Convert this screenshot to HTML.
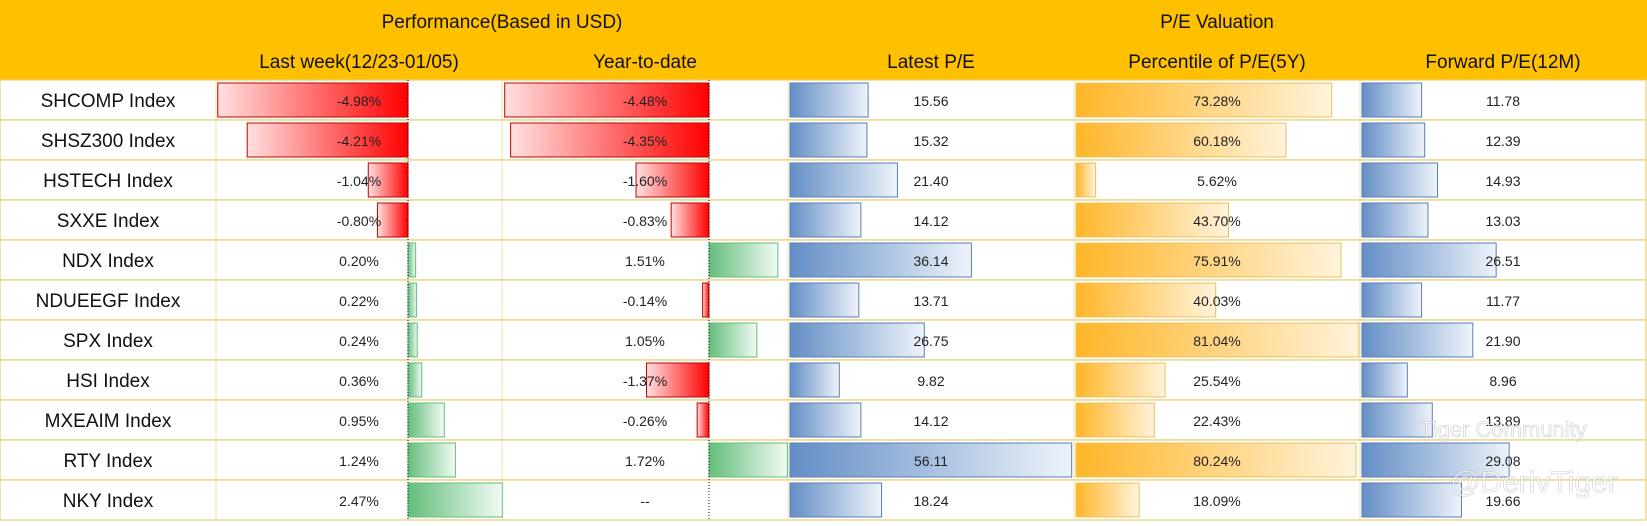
<!DOCTYPE html>
<html><head><meta charset="utf-8"><style>
body{margin:0;background:#fff;width:1647px;height:521px;overflow:hidden}
svg text{font-family:"Liberation Sans Narrow","Liberation Sans",sans-serif}
</style></head><body>
<svg id="c" width="1647" height="521" xmlns="http://www.w3.org/2000/svg">
<defs>
<linearGradient id="gRed" x1="0" x2="1"><stop offset="0" stop-color="#ffe0e0"/><stop offset="1" stop-color="#ff0000"/></linearGradient>
<linearGradient id="gGreen" x1="0" x2="1"><stop offset="0" stop-color="#63be7b"/><stop offset="1" stop-color="#f2faf4"/></linearGradient>
<linearGradient id="gBlue" x1="0" x2="1"><stop offset="0" stop-color="#638ec6"/><stop offset="1" stop-color="#eef3fa"/></linearGradient>
<linearGradient id="gOrange" x1="0" x2="1"><stop offset="0" stop-color="#ffb628"/><stop offset="1" stop-color="#fff3dc"/></linearGradient>
</defs>
<rect x="0" y="0" width="1647" height="80" fill="#ffc000"/>
<text x="502" y="28" font-size="19" text-anchor="middle" fill="#111" font-family="Liberation Sans Narrow, Liberation Sans, sans-serif">Performance(Based in USD)</text>
<text x="1217" y="28" font-size="19" text-anchor="middle" fill="#111">P/E Valuation</text>
<g id="rows"></g>
<g id="bars"></g>
<text x="1420" y="437" font-size="22" fill="#fff" fill-opacity="0.7" stroke="#999" stroke-opacity="0.5" stroke-width="0.6">Tiger Community</text>
<text x="1450" y="492" font-size="30" fill="#fff" fill-opacity="0.6" stroke="#999" stroke-opacity="0.5" stroke-width="0.6">@DerivTiger</text>
</svg>
<script>
const categories=["SHCOMP Index","SHSZ300 Index","HSTECH Index","SXXE Index","NDX Index","NDUEEGF Index","SPX Index","HSI Index","MXEAIM Index","RTY Index","NKY Index"];
const colHeaders=["Last week(12/23-01/05)","Year-to-date","Latest P/E","Percentile of P/E(5Y)","Forward P/E(12M)"];
const lastWeek=[-4.98,-4.21,-1.04,-0.80,0.20,0.22,0.24,0.36,0.95,1.24,2.47];
const ytd=[-4.48,-4.35,-1.60,-0.83,1.51,-0.14,1.05,-1.37,-0.26,1.72,null];
const latestPE=[15.56,15.32,21.40,14.12,36.14,13.71,26.75,9.82,14.12,56.11,18.24];
const pctPE=[73.28,60.18,5.62,43.70,75.91,40.03,81.04,25.54,22.43,80.24,18.09];
const fwdPE=[11.78,12.39,14.93,13.03,26.51,11.77,21.90,8.96,13.89,29.08,19.66];

const NS="http://www.w3.org/2000/svg";
const svg=document.getElementById('c'),rows=document.getElementById('rows'),bars=document.getElementById('bars');
const colX=[0,216,502,788,1074,1360,1646];
const top0=80,rh=40;
function el(t,a,p){const e=document.createElementNS(NS,t);for(const k in a)e.setAttribute(k,a[k]);(p||bars).appendChild(e);return e;}
colHeaders.forEach((h,i)=>{
  const t=el('text',{x:(colX[i+1]+colX[i+2])/2,y:68,'font-size':19,'text-anchor':'middle',fill:'#111'},svg);
  t.textContent=h;
  
  
});
// axis functions
const xLW=v=>408+v*38.2, xYTD=v=>709+v*45.6, xPE=v=>790+v*5.02, xPct=v=>1076+v*3.49, xFwd=v=>1362+v*5.06;
categories.forEach((c,i)=>{
  const y=top0+i*rh;
  const r=el('rect',{x:0,y:y,width:1646,height:rh,fill:'#fff',stroke:'#e6cf6e','stroke-width':1.2},rows);
  
  
  for(let k=1;k<6;k++){const l=el('line',{x1:colX[k],x2:colX[k],y1:y,y2:y+rh,stroke:'#f0e2a0','stroke-width':1},rows);}
  const t=el('text',{x:108,y:y+27,'font-size':19,'text-anchor':'middle',fill:'#111'},rows);
  t.textContent=c;
  
  
});
function drawSigned(vals,xf,ci,name){
  vals.forEach((v,i)=>{
    const y=top0+i*rh;
    const cx=(colX[ci]+colX[ci+1])/2;
    if(v!==null){
      const x0=xf(0),x1=xf(v);
      const neg=v<0;
      const b=el('rect',{x:Math.min(x0,x1),y:y+3,width:Math.abs(x1-x0),height:rh-6,fill:neg?'url(#gRed)':'url(#gGreen)',stroke:neg?'#c00000':'#63be7b','stroke-width':1});
      
      
    }
    const t=el('text',{x:cx,y:y+26,'font-size':14,'text-anchor':'middle',fill:'#222'});
    t.textContent=v===null?'--':v.toFixed(2)+'%';
    
    
  });
  const a=el('line',{x1:xf(0),x2:xf(0),y1:top0,y2:top0+rh*vals.length,stroke:'#000','stroke-dasharray':'1,2','stroke-width':1});
  
  
}
function drawPos(vals,xf,ci,grad,stroke,name,suffix){
  vals.forEach((v,i)=>{
    const y=top0+i*rh;
    const b=el('rect',{x:xf(0),y:y+3,width:xf(v)-xf(0),height:rh-6,fill:grad,stroke:stroke,'stroke-width':1});
    
    
    const t=el('text',{x:(colX[ci]+colX[ci+1])/2,y:y+26,'font-size':14,'text-anchor':'middle',fill:'#222'});
    t.textContent=v.toFixed(2)+suffix;
    
    
  });
}
drawSigned(lastWeek,xLW,1,'last-week');
drawSigned(ytd,xYTD,2,'ytd');
drawPos(latestPE,xPE,3,'url(#gBlue)','#5a7fb5','latest-pe','');
drawPos(pctPE,xPct,4,'url(#gOrange)','#e8c060','percentile-pe','%');
drawPos(fwdPE,xFwd,5,'url(#gBlue)','#5a7fb5','forward-pe','');
</script>
</body></html>
